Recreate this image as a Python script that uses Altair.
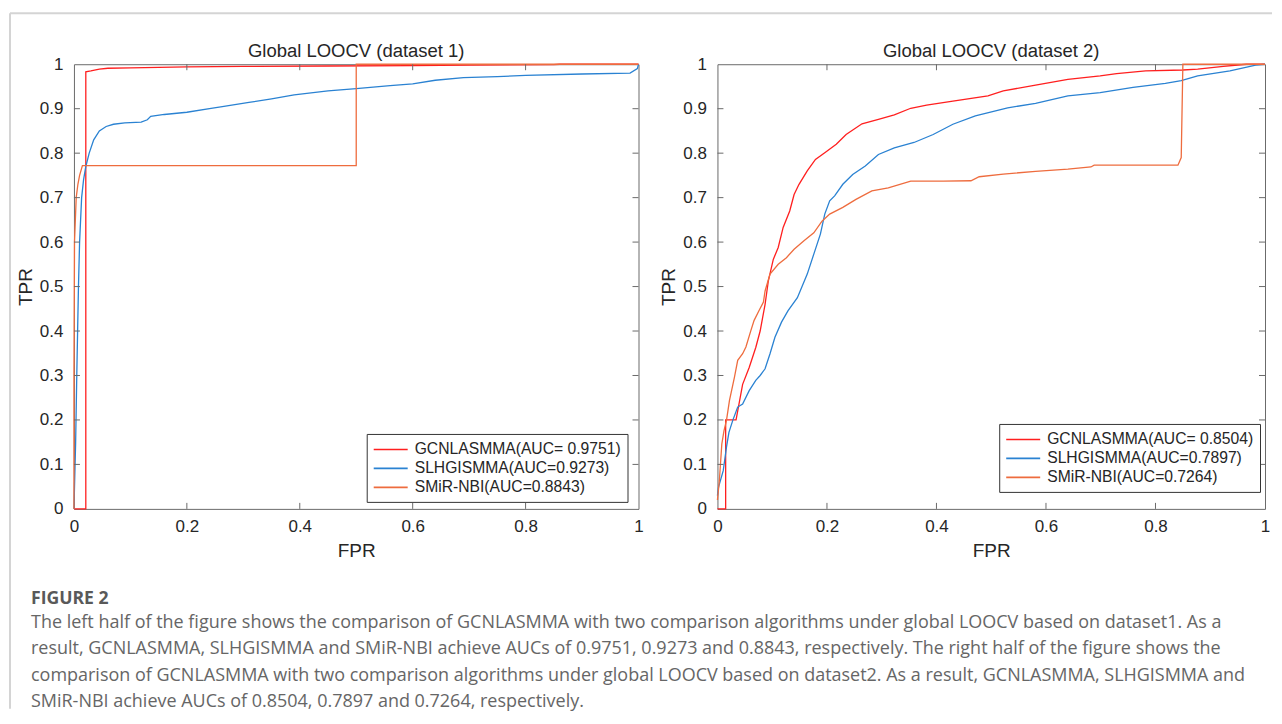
import altair as alt
import pandas as pd

# ---------------- data ----------------
series = ["GCNLASMMA", "SLHGISMMA", "SMiR-NBI"]
labels1 = ["GCNLASMMA(AUC= 0.9751)", "SLHGISMMA(AUC=0.9273)", "SMiR-NBI(AUC=0.8843)"]
labels2 = ["GCNLASMMA(AUC= 0.8504)", "SLHGISMMA(AUC=0.7897)", "SMiR-NBI(AUC=0.7264)"]
colors = ["#FF1F1F", "#2A82D2", "#EE6C3E"]

x_ticks = [0, 0.2, 0.4, 0.6, 0.8, 1]
y_ticks = [0, 0.1, 0.2, 0.3, 0.4, 0.5, 0.6, 0.7, 0.8, 0.9, 1]

# dataset 1
d1_gcn_fpr = [0, 0.021, 0.021, 0.03, 0.045, 0.06, 0.1, 0.2, 0.3, 0.45, 0.6, 0.7, 0.85, 0.86, 1.0]
d1_gcn_tpr = [0, 0, 0.983, 0.985, 0.989, 0.991, 0.992, 0.994, 0.995, 0.996, 0.997, 0.998, 0.999, 1.0, 1.0]

d1_slh_fpr = [0, 0.003, 0.005, 0.0065, 0.008, 0.010, 0.0136, 0.017, 0.021, 0.027, 0.035, 0.045,
              0.057, 0.07, 0.09, 0.119, 0.13, 0.136, 0.16, 0.2, 0.24, 0.26, 0.31, 0.35, 0.39, 0.45,
              0.5, 0.56, 0.6, 0.64, 0.69, 0.75, 0.8, 0.9, 0.985, 0.998, 1.0]
d1_slh_tpr = [0, 0.15, 0.3, 0.4, 0.5, 0.6, 0.7, 0.74, 0.77, 0.8, 0.83, 0.85,
              0.86, 0.865, 0.868, 0.87, 0.875, 0.883, 0.887, 0.892, 0.9, 0.904, 0.914, 0.922, 0.931, 0.94,
              0.945, 0.952, 0.956, 0.964, 0.97, 0.972, 0.975, 0.978, 0.98, 0.99, 1.0]

d1_smir_fpr = [0, 0.0, 0.001, 0.004, 0.007, 0.01, 0.015, 0.5, 0.5, 1.0]
d1_smir_tpr = [0, 0.3, 0.6, 0.7, 0.73, 0.75, 0.772, 0.772, 1.0, 1.0]

# dataset 2
d2_gcn_fpr = [0, 0.015, 0.015, 0.034, 0.04, 0.046, 0.058, 0.07, 0.078, 0.087, 0.093, 0.102, 0.111,
              0.12, 0.132, 0.14, 0.149, 0.164, 0.179, 0.196, 0.217, 0.235, 0.264, 0.294, 0.323, 0.353,
              0.382, 0.43, 0.494, 0.522, 0.581, 0.64, 0.699, 0.729, 0.782, 0.85, 0.877, 0.924, 0.966, 1.0]
d2_gcn_tpr = [0, 0, 0.2, 0.2, 0.24, 0.28, 0.318, 0.363, 0.40, 0.46, 0.513, 0.561, 0.588,
              0.633, 0.67, 0.707, 0.73, 0.76, 0.786, 0.801, 0.82, 0.842, 0.866, 0.876, 0.886, 0.901,
              0.908, 0.917, 0.929, 0.94, 0.953, 0.966, 0.974, 0.979, 0.985, 0.987, 0.989, 0.995, 1.0, 1.0]

d2_slh_fpr = [0, 0.002, 0.0106, 0.0165, 0.021, 0.028, 0.037, 0.046, 0.058, 0.07, 0.078, 0.087, 0.096,
              0.105, 0.117, 0.129, 0.146, 0.164, 0.176, 0.188, 0.196, 0.205, 0.214, 0.229, 0.247, 0.27,
              0.294, 0.323, 0.359, 0.394, 0.43, 0.471, 0.53, 0.581, 0.64, 0.699, 0.759, 0.818, 0.847,
              0.877, 0.936, 0.983, 1.0]
d2_slh_tpr = [0.03, 0.049, 0.086, 0.139, 0.172, 0.199, 0.229, 0.236, 0.266, 0.289, 0.30, 0.315, 0.349,
              0.386, 0.42, 0.446, 0.475, 0.528, 0.573, 0.618, 0.663, 0.693, 0.704, 0.73, 0.752, 0.771,
              0.797, 0.812, 0.824, 0.842, 0.865, 0.884, 0.902, 0.912, 0.929, 0.936, 0.948, 0.957, 0.963,
              0.974, 0.985, 0.998, 1.0]

d2_smir_fpr = [0, 0.0035, 0.008, 0.012, 0.0165, 0.022, 0.031, 0.037, 0.046, 0.052, 0.061, 0.067, 0.076,
               0.084, 0.087, 0.096, 0.111, 0.126, 0.14, 0.158, 0.176, 0.191, 0.205, 0.229, 0.253, 0.282,
               0.312, 0.353, 0.412, 0.463, 0.478, 0.522, 0.581, 0.64, 0.682, 0.688, 0.841, 0.847, 0.85, 1.0]
d2_smir_tpr = [0.02, 0.064, 0.146, 0.176, 0.199, 0.244, 0.296, 0.334, 0.349, 0.364, 0.401, 0.424, 0.446,
               0.465, 0.49, 0.528, 0.55, 0.565, 0.584, 0.603, 0.621, 0.647, 0.663, 0.678, 0.696, 0.715,
               0.722, 0.737, 0.737, 0.738, 0.747, 0.753, 0.759, 0.764, 0.769, 0.773, 0.773, 0.79, 1.0, 1.0]

titles = ["Global LOOCV (dataset 1)", "Global LOOCV (dataset 2)"]
caption_head = "FIGURE 2"
caption_lines = [
    "The left half of the figure shows the comparison of GCNLASMMA with two comparison algorithms under global LOOCV based on dataset1. As a",
    "result, GCNLASMMA, SLHGISMMA and SMiR-NBI achieve AUCs of 0.9751, 0.9273 and 0.8843, respectively. The right half of the figure shows the",
    "comparison of GCNLASMMA with two comparison algorithms under global LOOCV based on dataset2. As a result, GCNLASMMA, SLHGISMMA and",
    "SMiR-NBI achieve AUCs of 0.8504, 0.7897 and 0.7264, respectively.",
]


def make_df(labels, pairs):
    rows = []
    for lab, (fx, ty) in zip(labels, pairs):
        assert len(fx) == len(ty), lab
        for i, (a, b) in enumerate(zip(fx, ty)):
            rows.append({"label": lab, "fpr": a, "tpr": b, "idx": i})
    return pd.DataFrame(rows)


df1 = make_df(labels1, [(d1_gcn_fpr, d1_gcn_tpr), (d1_slh_fpr, d1_slh_tpr), (d1_smir_fpr, d1_smir_tpr)])
df2 = make_df(labels2, [(d2_gcn_fpr, d2_gcn_tpr), (d2_slh_fpr, d2_slh_tpr), (d2_smir_fpr, d2_smir_tpr)])

H = 445
AXIS_COLOR = "#6a6a6a"
TEXT_COLOR = "#262626"
FONT = "Liberation Sans"


def panel(df, labels, title, W, lx, ly):
    xs = alt.Scale(domain=[0, 1], nice=False, zero=False)
    ys = alt.Scale(domain=[0, 1], nice=False, zero=False)
    x_axis = alt.Axis(values=x_ticks, title="FPR", format="~g")
    y_axis = alt.Axis(values=y_ticks, title="TPR", format="~g")
    lines = alt.Chart(df).mark_line(strokeWidth=1.3).encode(
        x=alt.X("fpr:Q", scale=xs, axis=x_axis),
        y=alt.Y("tpr:Q", scale=ys, axis=y_axis),
        color=alt.Color(
            "label:N",
            sort=labels,
            scale=alt.Scale(domain=labels, range=colors),
            legend=alt.Legend(
                title=None, orient="none", legendX=lx, legendY=ly,
                symbolType="M-1,0L3,0", symbolSize=289, symbolStrokeWidth=1.6,
                labelFont=FONT, labelFontSize=15.7, labelColor=TEXT_COLOR, labelLimit=400,
                strokeColor="#333333", fillColor="white", padding=6,
                rowPadding=1, labelOffset=23,
            ),
        ),
        order="idx:Q",
    )
    xt = pd.DataFrame({"t": x_ticks[1:-1]})
    yt = pd.DataFrame({"t": y_ticks[1:-1]})
    tick = dict(color=AXIS_COLOR, strokeWidth=1)
    bt = alt.Chart(xt).mark_rule(**tick).encode(x=alt.X("t:Q", scale=xs, axis=x_axis), y=alt.value(H), y2=alt.value(H - 6))
    tt = alt.Chart(xt).mark_rule(**tick).encode(x=alt.X("t:Q", scale=xs, axis=x_axis), y=alt.value(0), y2=alt.value(6))
    lt = alt.Chart(yt).mark_rule(**tick).encode(y=alt.Y("t:Q", scale=ys, axis=y_axis), x=alt.value(0), x2=alt.value(6))
    rt = alt.Chart(yt).mark_rule(**tick).encode(y=alt.Y("t:Q", scale=ys, axis=y_axis), x=alt.value(W - 6), x2=alt.value(W))
    ttl = alt.Chart().mark_text(font=FONT, fontSize=18.5, color=TEXT_COLOR, align="center",
                                baseline="middle").encode(
        x=alt.value(W / 2), y=alt.value(-13), text=alt.value(title))
    return alt.layer(lines, bt, tt, lt, rt, ttl).properties(width=W, height=H)


left = panel(df1, labels1, titles[0], 565, 293, 370)
right = panel(df2, labels2, titles[1], 548, 282, 360)

# figure frame and caption (drawn relative to the left panel)
frame_top = alt.Chart().mark_rule(color="#d4d4d4", strokeWidth=2).encode(
    x=alt.value(-64), x2=alt.value(1199), y=alt.value(-51))
frame_left = alt.Chart().mark_rule(color="#d4d4d4", strokeWidth=2).encode(
    x=alt.value(-64), y=alt.value(-51), y2=alt.value(645))
head = alt.Chart().mark_text(align="left", baseline="alphabetic", font="Open Sans", fontSize=17.6,
                             fontWeight="bold", color="#595959").encode(
    x=alt.value(-43), y=alt.value(540), text=alt.value(caption_head))
body = alt.Chart().mark_text(align="left", baseline="alphabetic", font="Open Sans", fontSize=18,
                             color="#666666", lineHeight=26.5).encode(
    x=alt.value(-43), y=alt.value(564), text=alt.value(caption_lines))

left = alt.layer(left, frame_top, frame_left, head, body)

chart = alt.hconcat(left, right, spacing=79, bounds="flush").resolve_scale(color="independent").properties(
    padding={"left": 0, "top": 3, "right": 0, "bottom": 0}
).configure_view(stroke=AXIS_COLOR, strokeWidth=1).configure_axis(
    domain=False, ticks=False, grid=False, labelFlush=False,
    labelFont=FONT, labelFontSize=17, labelColor=TEXT_COLOR,
    titleFont=FONT, titleFontSize=19, titleFontWeight="normal", titleColor=TEXT_COLOR,
).configure_axisX(labelPadding=10, titlePadding=7).configure_axisY(labelPadding=11, titlePadding=4)

chart.save("out.html", embed_options={"renderer": "svg", "actions": False})
